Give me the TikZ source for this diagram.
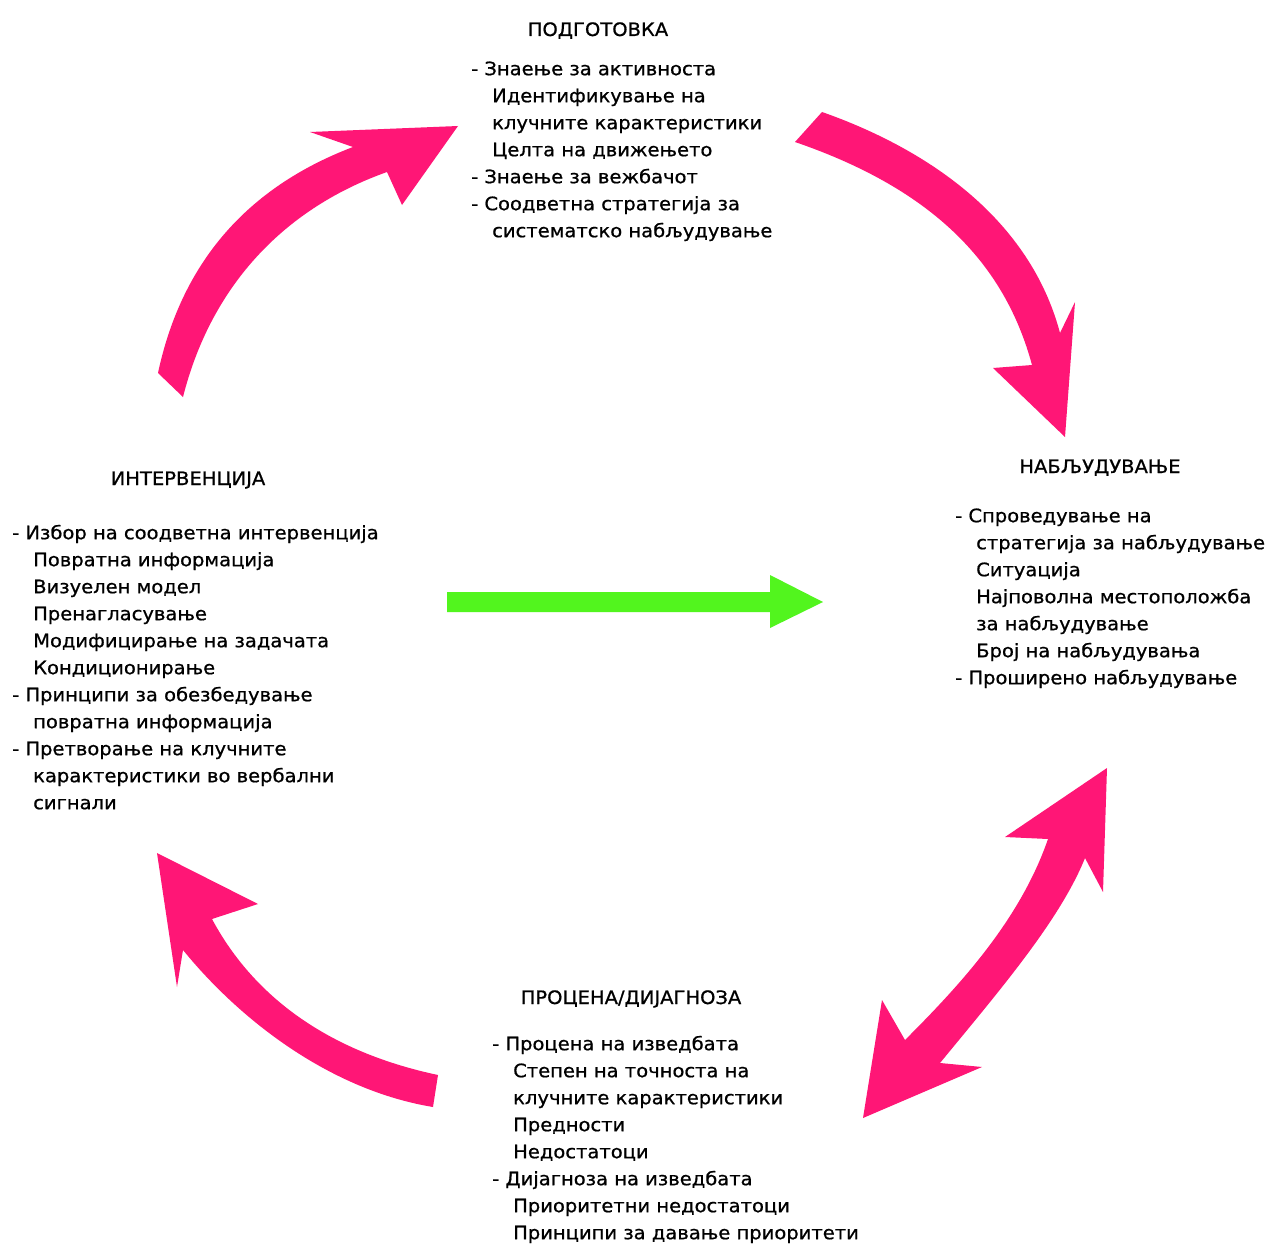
\documentclass[tikz,border=0pt]{standalone}
\usepackage{fontspec}
\setmainfont{DejaVu Sans}[FakeStretch=1.055, FakeBold=0.8]
\definecolor{hotpink}{RGB}{255,22,118}
\definecolor{limegreen}{RGB}{82,245,30}
\newcommand\myind{\hspace*{21pt}}
\newcommand\firstline{\rule{0pt}{15pt}}
\begin{document}
\begin{tikzpicture}[x=1pt,y=-1pt,
  title/.style={font=\fontsize{18.5}{27}\selectfont, inner sep=0, anchor=base},
  block/.style={font=\fontsize{18.5}{27}\selectfont, inner sep=0, anchor=north west, align=left},
  bigarrow/.style={fill=hotpink, draw=none}]
\useasboundingbox (0,0) rectangle (1269,1244);
\fill[white] (0,0) rectangle (1269,1244);

% titles
\node[title] (tprep) at (598,36) {ПОДГОТОВКА};
\node[title] (tobs) at (1100,473) {НАБЉУДУВАЊЕ};
\node[title] (tint) at (188,485) {ИНТЕРВЕНЦИЈА};
\node[title] (tass) at (631,1004) {ПРОЦЕНА/ДИЈАГНОЗА};

% blocks
\node[block] (prep) at (471,60) {\firstline- Знаење за активноста\\
\myind Идентификување на\\
\myind клучните карактеристики\\
\myind Целта на движењето\\
- Знаење за вежбачот\\
- Соодветна стратегија за\\
\myind систематско набљудување};

\node[block] (obs) at (955,507) {\firstline- Спроведување на\\
\myind стратегија за набљудување\\
\myind Ситуација\\
\myind Најповолна местоположба\\
\myind за набљудување\\
\myind Број на набљудувања\\
- Проширено набљудување};

\node[block] (int) at (12,524) {\firstline- Избор на соодветна интервенција\\
\myind Повратна информација\\
\myind Визуелен модел\\
\myind Пренагласување\\
\myind Модифицирање на задачата\\
\myind Кондиционирање\\
- Принципи за обезбедување\\
\myind повратна информација\\
- Претворање на клучните\\
\myind карактеристики во вербални\\
\myind сигнали};

\node[block] (ass) at (492,1035) {\firstline- Процена на изведбата\\
\myind Степен на точноста на\\
\myind клучните карактеристики\\
\myind Предности\\
\myind Недостатоци\\
- Дијагноза на изведбата\\
\myind Приоритетни недостатоци\\
\myind Принципи за давање приоритети};

% arrow: intervention -> preparation
\fill[bigarrow] (158,373) .. controls (180,270) and (240,190) .. (353,147)
  -- (310,132) -- (458,126) -- (402,205) -- (387,172)
  .. controls (280,210) and (210,290) .. (183,397) -- cycle;

% arrow: preparation -> observation
\fill[bigarrow] (822,112) .. controls (930,150) and (1030,220) .. (1060,333)
  -- (1075,302) -- (1065,437) -- (993,368) -- (1032,365)
  .. controls (1005,265) and (935,190) .. (795,142) -- cycle;

% double arrow: observation <-> assessment
\fill[bigarrow] (1107,768) -- (1103,892) -- (1085,858)
  .. controls (1060,920) and (1000,990) .. (940,1063)
  -- (982,1067) -- (863,1118) -- (882,1000) -- (905,1040)
  .. controls (960,985) and (1020,920) .. (1048,839)
  -- (1005,837) -- cycle;

% arrow: assessment -> intervention
\fill[bigarrow] (157,853) -- (258,904) -- (212,919)
  .. controls (250,990) and (320,1050) .. (438,1075)
  -- (433,1107)
  .. controls (330,1090) and (240,1020) .. (183,950)
  -- (177,987) -- cycle;

% green arrow
\fill[limegreen] (447,592) -- (770,592) -- (770,575) -- (823,602) -- (770,628) -- (770,612) -- (447,612) -- cycle;
\end{tikzpicture}
\end{document}
